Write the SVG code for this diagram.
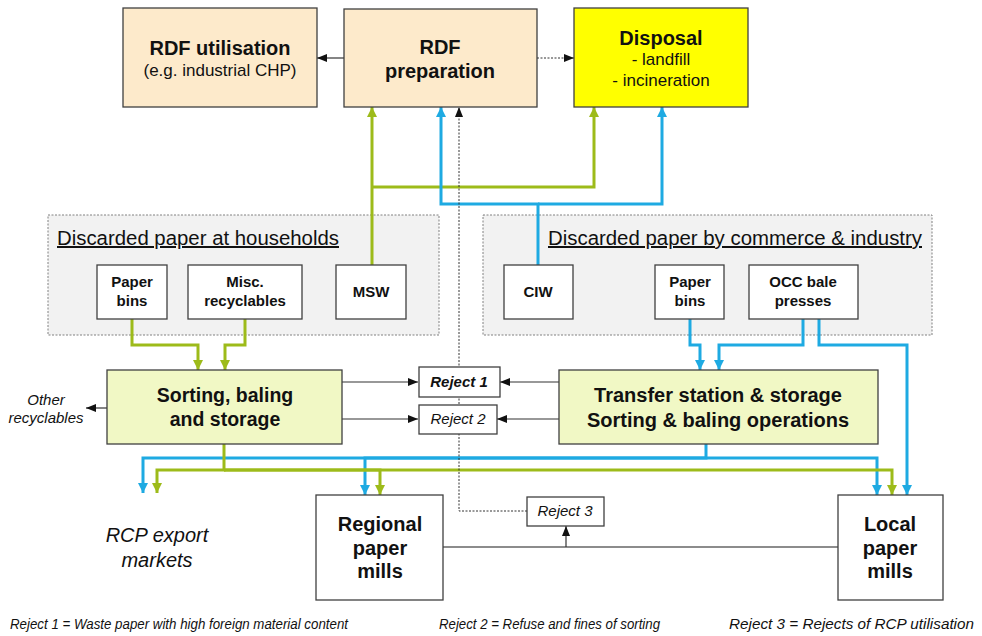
<svg xmlns="http://www.w3.org/2000/svg" width="982" height="636" viewBox="0 0 982 636">
<style>
text{font-family:"Liberation Sans",Arial,sans-serif;fill:#111;text-anchor:middle}
.b{font-weight:bold}
.i{font-style:italic}
.box{stroke:#404040;stroke-width:1.3}
.white{fill:#fff}
.peach{fill:#fdeacb}
.yel{fill:#ffff00}
.lime{fill:#f1f8c5}
.grp{fill:#f2f2f2;stroke:#808080;stroke-width:1;stroke-dasharray:2 1.5}
.g{fill:none;stroke:#9dbb1a;stroke-width:3}
.bl{fill:none;stroke:#1eaae2;stroke-width:3}
.k{fill:none;stroke:#333;stroke-width:1.2}
.kd{fill:none;stroke:#333;stroke-width:1;stroke-dasharray:2 1.5}
.gl{fill:none;stroke:#666;stroke-width:1.5}
</style>
<defs>
<marker id="ag" markerUnits="userSpaceOnUse" markerWidth="10" markerHeight="10" refX="10" refY="5" orient="auto"><path d="M0,0 L10,5 L0,10 z" fill="#9dbb1a"/></marker>
<marker id="ab" markerUnits="userSpaceOnUse" markerWidth="10" markerHeight="10" refX="10" refY="5" orient="auto"><path d="M0,0 L10,5 L0,10 z" fill="#1eaae2"/></marker>
<marker id="ak" markerUnits="userSpaceOnUse" markerWidth="10" markerHeight="10" refX="10" refY="5" orient="auto"><path d="M0,1 L10,5 L0,9 z" fill="#111"/></marker>
</defs>
<rect width="982" height="636" fill="#fff"/>

<g id="households">
<rect class="grp" x="48" y="215" width="391" height="120"/>
<text x="57" y="245" style="text-anchor:start;font-size:20px;text-decoration:underline" textLength="282" lengthAdjust="spacingAndGlyphs">Discarded paper at households</text>
</g>
<g id="commerce">
<rect class="grp" x="483" y="215" width="449" height="120"/>
<text x="548" y="245" style="text-anchor:start;font-size:20px;text-decoration:underline" textLength="374" lengthAdjust="spacingAndGlyphs">Discarded paper by commerce &amp; industry</text>
</g>

<g id="connectors">
<path class="g" d="M372,265 V107" marker-end="url(#ag)"/>
<path class="g" d="M372,187 H594 V107" marker-end="url(#ag)"/>
<path class="g" d="M132,319 V345 H198 V370" marker-end="url(#ag)"/>
<path class="g" d="M245,319 V345 H225 V370" marker-end="url(#ag)"/>
<path class="bl" d="M538,265 V204 H441 V107" marker-end="url(#ab)"/>
<path class="bl" d="M538,204 H662 V107" marker-end="url(#ab)"/>
<path class="bl" d="M690,319 V345 H700 V370" marker-end="url(#ab)"/>
<path class="bl" d="M803,319 V345 H719 V370" marker-end="url(#ab)"/>
<path class="bl" d="M819,319 V345 H907 V495" marker-end="url(#ab)"/>
<path class="bl" d="M706,444 V458 H143 V493" marker-end="url(#ab)"/>
<path class="bl" d="M706,458 H365 V495" marker-end="url(#ab)"/>
<path class="bl" d="M706,458 H877 V495" marker-end="url(#ab)"/>
<path class="g" d="M224,444 V470 H157 V493" marker-end="url(#ag)"/>
<path class="g" d="M224,470 H380 V495" marker-end="url(#ag)"/>
<path class="g" d="M224,470 H892 V495" marker-end="url(#ag)"/>
<path class="k" d="M344,58 H317" marker-end="url(#ak)"/>
<path class="kd" d="M537,58 H574" marker-end="url(#ak)"/>
<path class="kd" d="M527,511 H459 V107" marker-end="url(#ak)"/>
<path class="k" d="M342,382 H418" marker-end="url(#ak)"/>
<path class="k" d="M342,419 H418" marker-end="url(#ak)"/>
<path class="k" d="M559,382 H500" marker-end="url(#ak)"/>
<path class="k" d="M559,419 H497" marker-end="url(#ak)"/>
<path class="k" d="M107,408 H86" marker-end="url(#ak)"/>
<path class="gl" d="M443,547 H838"/>
<path class="k" d="M566,547 V526" marker-end="url(#ak)"/>
</g>

<g id="rdf-utilisation">
<rect class="box peach" x="123" y="8" width="194" height="99"/>
<text class="b" x="220" y="55" style="font-size:20px">RDF utilisation</text>
<text x="220" y="76" style="font-size:17px">(e.g. industrial CHP)</text>
</g>
<g id="rdf-preparation">
<rect class="box peach" x="344" y="9" width="193" height="98"/>
<text class="b" x="440" y="54" style="font-size:20px">RDF</text>
<text class="b" x="440" y="78" style="font-size:20px">preparation</text>
</g>
<g id="disposal">
<rect class="box yel" x="574" y="8" width="174" height="99"/>
<text class="b" x="661" y="45" style="font-size:20px">Disposal</text>
<text x="661" y="65" style="font-size:17px">- landfill</text>
<text x="661" y="86" style="font-size:17px">- incineration</text>
</g>

<g id="hh-paper-bins">
<rect class="box white" x="97" y="265" width="70" height="54"/>
<text class="b" x="132" y="287" style="font-size:15px">Paper</text>
<text class="b" x="132" y="306" style="font-size:15px">bins</text>
</g>
<g id="misc-recyclables">
<rect class="box white" x="188" y="265" width="114" height="54"/>
<text class="b" x="245" y="287" style="font-size:15px">Misc.</text>
<text class="b" x="245" y="306" style="font-size:15px">recyclables</text>
</g>
<g id="msw">
<rect class="box white" x="336" y="265" width="70" height="54"/>
<text class="b" x="371" y="297" style="font-size:15px">MSW</text>
</g>
<g id="ciw">
<rect class="box white" x="504" y="265" width="69" height="54"/>
<text class="b" x="538" y="297" style="font-size:15px">CIW</text>
</g>
<g id="ci-paper-bins">
<rect class="box white" x="655" y="265" width="69" height="54"/>
<text class="b" x="690" y="287" style="font-size:15px">Paper</text>
<text class="b" x="690" y="306" style="font-size:15px">bins</text>
</g>
<g id="occ-bale-presses">
<rect class="box white" x="749" y="265" width="109" height="54"/>
<text class="b" x="803" y="287" style="font-size:15px">OCC bale</text>
<text class="b" x="803" y="306" style="font-size:15px">presses</text>
</g>

<g id="sorting">
<rect class="box lime" x="107" y="370" width="235" height="74"/>
<text class="b" x="225" y="402" style="font-size:19.5px">Sorting, baling</text>
<text class="b" x="225" y="426" style="font-size:19.5px">and storage</text>
</g>
<g id="other-recyclables">
<text class="i" x="46" y="405" style="font-size:15px">Other</text>
<text class="i" x="46" y="423" style="font-size:15px">recyclables</text>
</g>
<g id="reject1">
<rect class="box white" x="419" y="367" width="81" height="30"/>
<text class="b i" x="459" y="387" style="font-size:15px">Reject 1</text>
</g>
<g id="reject2">
<rect class="box white" x="419" y="405" width="78" height="29"/>
<text class="i" x="458" y="424" style="font-size:15px">Reject 2</text>
</g>
<g id="transfer">
<rect class="box lime" x="559" y="370" width="319" height="74"/>
<text class="b" x="718" y="402" style="font-size:20px">Transfer station &amp; storage</text>
<text class="b" x="718" y="427" style="font-size:20px">Sorting &amp; baling operations</text>
</g>

<g id="rcp-export">
<text class="i" x="157" y="542" style="font-size:20px">RCP export</text>
<text class="i" x="157" y="567" style="font-size:20px">markets</text>
</g>
<g id="regional-mills">
<rect class="box white" x="316" y="495" width="127" height="105"/>
<text class="b" x="380" y="531" style="font-size:20px">Regional</text>
<text class="b" x="380" y="555" style="font-size:20px">paper</text>
<text class="b" x="380" y="578" style="font-size:20px">mills</text>
</g>
<g id="reject3">
<rect class="box white" x="527" y="497" width="77" height="29"/>
<text class="i" x="565" y="516" style="font-size:15px">Reject 3</text>
</g>
<g id="local-mills">
<rect class="box white" x="838" y="495" width="105" height="105"/>
<text class="b" x="890" y="531" style="font-size:20px">Local</text>
<text class="b" x="890" y="555" style="font-size:20px">paper</text>
<text class="b" x="890" y="578" style="font-size:20px">mills</text>
</g>

<g id="legend">
<text class="i" x="10" y="629" style="text-anchor:start;font-size:15px" textLength="338" lengthAdjust="spacingAndGlyphs">Reject 1 = Waste paper with high foreign material content</text>
<text class="i" x="439" y="629" style="text-anchor:start;font-size:15px" textLength="221" lengthAdjust="spacingAndGlyphs">Reject 2 = Refuse and fines of sorting</text>
<text class="i" x="729" y="629" style="text-anchor:start;font-size:15px" textLength="245" lengthAdjust="spacingAndGlyphs">Reject 3 = Rejects of RCP utilisation</text>
</g>
</svg>
